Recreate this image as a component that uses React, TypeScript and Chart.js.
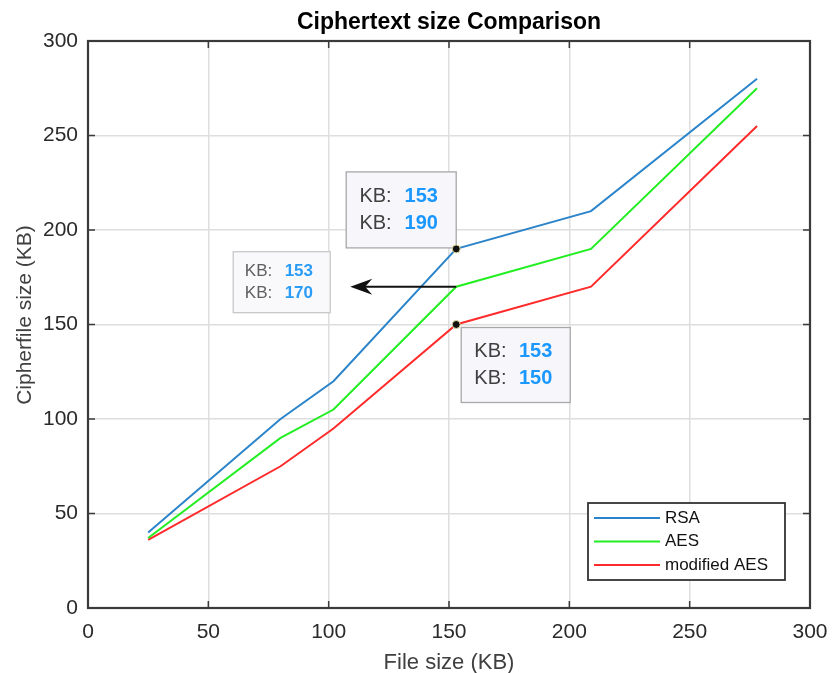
import React, { useEffect, useRef } from "react";
import { Chart, registerables } from "chart.js";
Chart.register(...registerables);

const fileSizes = [25, 80, 102, 153, 209, 278];
const rsaSizes = [40, 100, 120, 190, 210, 280];
const aesSizes = [37, 90, 105, 170, 190, 275];
const modAesSizes = [36, 75, 95, 150, 170, 255];
const seriesLabels = ["RSA", "AES", "modified AES"];
const seriesColors = ["#2b84c9", "#22ee22", "#ff2a2a"];
const chartTitle = "Ciphertext size Comparison";
const xTitle = "File size (KB)";
const yTitle = "Cipherfile size (KB)";
// data tips: [series index, point index]
const tipRSA = [0, 3];
const tipAES = [1, 3];
const tipMod = [2, 3];

const FONT = "Arial, 'Liberation Sans', sans-serif";

function drawTip(
  ctx: CanvasRenderingContext2D,
  bx: number, by: number, bw: number, bh: number,
  xv: number, yv: number, size: number, faded: boolean
) {
  ctx.save();
  ctx.fillStyle = faded ? "#f9f9fc" : "#f7f7fb";
  ctx.fillRect(bx, by, bw, bh);
  ctx.strokeStyle = faded ? "#c8c8c8" : "#a8a8a8";
  ctx.lineWidth = 1.3;
  ctx.strokeRect(bx, by, bw, bh);
  ctx.textBaseline = "middle";
  ctx.textAlign = "left";
  const lineGap = bh * 0.36;
  const rows = [String(xv), String(yv)];
  rows.forEach((v, i) => {
    const cy = by + bh / 2 + (i === 0 ? -lineGap / 2 : lineGap / 2);
    ctx.font = `${size}px ${FONT}`;
    ctx.fillStyle = faded ? "#606060" : "#404040";
    ctx.fillText("KB:", bx + bw * 0.12, cy);
    ctx.font = `bold ${size}px ${FONT}`;
    ctx.fillStyle = faded ? "#2a9cf5" : "#1a98ff";
    ctx.fillText(v, bx + bw * 0.53, cy);
  });
  ctx.restore();
}

const overlayPlugin = {
  id: "matlabOverlay",
  afterDatasetsDraw(chart: any) {
    const { ctx, chartArea: a, scales } = chart;
    const xs = scales.x, ys = scales.y;
    ctx.save();
    // inner ticks
    ctx.strokeStyle = "#3a3a3a";
    ctx.lineWidth = 1.5;
    const tl = 7;
    for (let v = 50; v < 300; v += 50) {
      const px = xs.getPixelForValue(v);
      ctx.beginPath();
      ctx.moveTo(px, a.bottom); ctx.lineTo(px, a.bottom - tl);
      ctx.moveTo(px, a.top); ctx.lineTo(px, a.top + tl);
      ctx.stroke();
      const py = ys.getPixelForValue(v);
      ctx.beginPath();
      ctx.moveTo(a.left, py); ctx.lineTo(a.left + tl, py);
      ctx.moveTo(a.right, py); ctx.lineTo(a.right - tl, py);
      ctx.stroke();
    }
    // box
    ctx.lineWidth = 2.2;
    ctx.strokeStyle = "#3a3a3a";
    ctx.strokeRect(a.left, a.top, a.right - a.left, a.bottom - a.top);

    // title
    ctx.fillStyle = "#000";
    ctx.font = `bold 23px ${FONT}`;
    ctx.textAlign = "center";
    ctx.textBaseline = "alphabetic";
    ctx.fillText(chartTitle, (a.left + a.right) / 2, 29);
    // axis titles
    ctx.fillStyle = "#404040";
    ctx.font = `22px ${FONT}`;
    ctx.fillText(xTitle, (a.left + a.right) / 2, 669);
    ctx.save();
    ctx.translate(25, 315);
    ctx.rotate(-Math.PI / 2);
    ctx.textBaseline = "middle";
    ctx.font = `21px ${FONT}`;
    ctx.fillText(yTitle, 0, 0);
    ctx.restore();

    const dsAll = [rsaSizes, aesSizes, modAesSizes];
    const pt = (t: number[]) => ({
      x: xs.getPixelForValue(fileSizes[t[1]]),
      y: ys.getPixelForValue(dsAll[t[0]][t[1]]),
      xv: fileSizes[t[1]],
      yv: dsAll[t[0]][t[1]],
    });

    // arrow from AES point to ghost tip
    const pA = pt(tipAES);
    ctx.strokeStyle = "#111";
    ctx.fillStyle = "#111";
    ctx.lineWidth = 2;
    const tipX = pA.x - 106;
    ctx.beginPath();
    ctx.moveTo(pA.x, pA.y); ctx.lineTo(tipX + 6, pA.y);
    ctx.stroke();
    ctx.beginPath();
    ctx.moveTo(tipX, pA.y);
    ctx.lineTo(tipX + 22, pA.y - 8);
    ctx.lineTo(tipX + 15, pA.y);
    ctx.lineTo(tipX + 22, pA.y + 8);
    ctx.closePath();
    ctx.fill();
    // ghost tip
    drawTip(ctx, pA.x - 223, pA.y - 35, 97, 61, pA.xv, pA.yv, 17, true);

    // tips with markers
    const p1 = pt(tipRSA);
    drawTip(ctx, p1.x - 110, p1.y - 77, 110, 76, p1.xv, p1.yv, 20, false);
    const p3 = pt(tipMod);
    drawTip(ctx, p3.x + 5, p3.y + 3, 109, 75, p3.xv, p3.yv, 20, false);
    [p1, p3].forEach((p) => {
      ctx.beginPath();
      ctx.arc(p.x, p.y, 4, 0, Math.PI * 2);
      ctx.fillStyle = "#111";
      ctx.fill();
      ctx.strokeStyle = "#e8e0a0";
      ctx.lineWidth = 1;
      ctx.stroke();
    });

    // legend
    const lx = 588, ly = 503, lw = 197, lh = 77;
    ctx.fillStyle = "#fff";
    ctx.fillRect(lx, ly, lw, lh);
    ctx.strokeStyle = "#333";
    ctx.lineWidth = 1.8;
    ctx.strokeRect(lx, ly, lw, lh);
    ctx.font = `17px ${FONT}`;
    ctx.textAlign = "left";
    ctx.textBaseline = "middle";
    seriesLabels.forEach((lab, i) => {
      const y = ly + 15 + i * 23.5;
      ctx.strokeStyle = seriesColors[i];
      ctx.lineWidth = 2.2;
      ctx.beginPath();
      ctx.moveTo(lx + 6, y); ctx.lineTo(lx + 72, y);
      ctx.stroke();
      ctx.fillStyle = "#111";
      ctx.fillText(lab, lx + 77, y);
    });
    ctx.restore();
  },
};

export default function App() {
  const ref = useRef<HTMLCanvasElement | null>(null);
  useEffect(() => {
    document.body.style.margin = "0";
    const canvas = ref.current!;
    const mk = (d: number[]) => fileSizes.map((x, i) => ({ x, y: d[i] }));
    const chart = new Chart(canvas, {
      type: "line",
      data: {
        datasets: [rsaSizes, aesSizes, modAesSizes].map((d, i) => ({
          label: seriesLabels[i],
          data: mk(d),
          borderColor: seriesColors[i],
          backgroundColor: seriesColors[i],
          borderWidth: 2,
          pointRadius: 0,
          tension: 0,
        })),
      },
      options: {
        responsive: false,
        animation: false,
        layout: { padding: { top: 41, right: 25, left: 0, bottom: 0 } },
        plugins: { legend: { display: false }, title: { display: false }, tooltip: { enabled: false } },
        scales: {
          x: {
            type: "linear",
            min: 0,
            max: 300,
            ticks: { stepSize: 50, color: "#2a2a2a", font: { size: 21, family: FONT }, padding: 12, maxRotation: 0 },
            grid: { color: "#dedede", lineWidth: 1.5, drawTicks: false },
            border: { display: false },
            afterFit: (s: any) => { s.height = 65; s.paddingRight = 0; },
          },
          y: {
            type: "linear",
            min: 0,
            max: 300,
            ticks: { stepSize: 50, color: "#2a2a2a", font: { size: 21, family: FONT }, padding: 10 },
            grid: { color: "#dedede", lineWidth: 1.5, drawTicks: false },
            border: { display: false },
            afterFit: (s: any) => { s.width = 88; },
          },
        },
      },
      plugins: [overlayPlugin],
    } as any);
    return () => chart.destroy();
  }, []);
  return <canvas ref={ref} width={835} height={673} style={{ display: "block" }} />;
}
